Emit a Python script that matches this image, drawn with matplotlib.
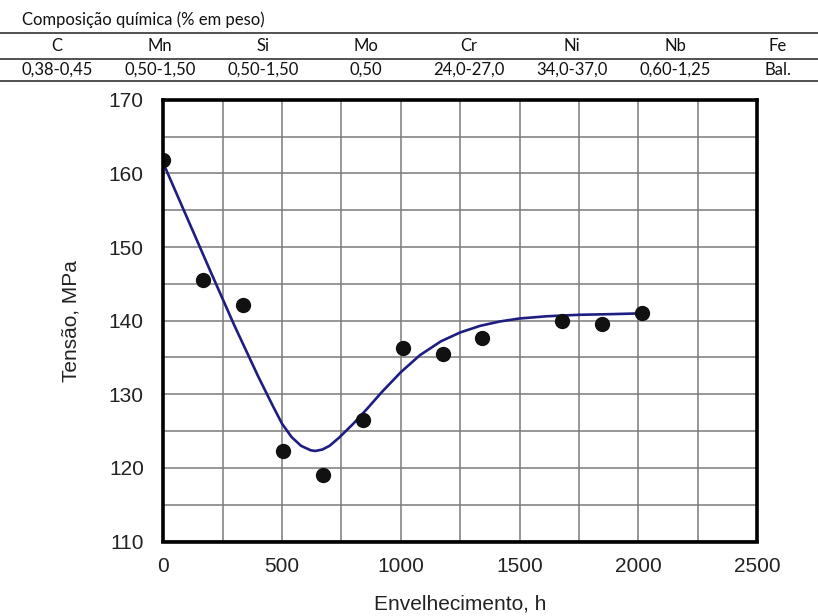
import matplotlib
matplotlib.use("Agg")
import matplotlib.pyplot as plt
from matplotlib.lines import Line2D

# composition table
elements = ["C", "Mn", "Si", "Mo", "Cr", "Ni", "Nb", "Fe"]
contents = ["0,38-0,45", "0,50-1,50", "0,50-1,50", "0,50",
            "24,0-27,0", "34,0-37,0", "0,60-1,25", "Bal."]

# measured stress vs ageing time
aging_h = [0, 168, 336, 504, 672, 840, 1008, 1176, 1344, 1680, 1848, 2016]
stress_mpa = [161.8, 145.5, 142.1, 122.3, 119.1, 126.5, 136.3, 135.5, 137.6,
              140.0, 139.5, 141.0]

# fitted trend curve
fit_h = [0, 100, 200, 300, 400, 460, 500, 540, 580, 620, 640, 670, 700,
         740, 800, 860, 920, 1000, 1080, 1169, 1250, 1334, 1418, 1500,
         1614, 1750, 1897, 2016]
fit_mpa = [161.4, 154.0, 146.6, 139.3, 132.4, 128.5, 126.0, 124.2, 123.0,
           122.4, 122.3, 122.5, 123.0, 124.1, 126.0, 128.1, 130.3, 133.0,
           135.3, 137.2, 138.4, 139.3, 139.9, 140.3, 140.6, 140.8, 140.9,
           141.0]

W, H = 818, 616
fig = plt.figure(figsize=(W / 100, H / 100), dpi=100)

tfont = "Lato"
fig.text(22 / W, 1 - 20 / H, "Composição química (% em peso)", family=tfont,
         fontsize=12, ha="left", va="center", color="#111111")
for y in (33, 59, 81):
    fig.add_artist(Line2D([0, 1], [1 - y / H, 1 - y / H], color="#333333",
                          lw=1.2, transform=fig.transFigure))
for i, (el, val) in enumerate(zip(elements, contents)):
    cx = (57 + 103 * i) / W
    fig.text(cx, 1 - 46 / H, el, family=tfont, fontsize=12,
             ha="center", va="center", color="#111111")
    fig.text(cx, 1 - 70 / H, val, family=tfont, fontsize=12,
             ha="center", va="center", color="#111111")

ax = fig.add_axes([163.3 / W, 1 - 541.5 / H, 593.7 / W, 441.6 / H])
ax.plot(fit_h, fit_mpa, color="#1e1e82", lw=1.9, zorder=3)
ax.plot(aging_h, stress_mpa, "o", color="#111111", ms=10, zorder=4)

ax.set_xlim(0, 2500)
ax.set_ylim(110, 170)
ax.set_xticks(range(0, 2501, 500))
ax.set_xticks(range(0, 2501, 250), minor=True)
ax.set_yticks(range(110, 171, 10))
ax.set_yticks(range(110, 171, 5), minor=True)
ax.grid(which="both", color="#7a7a7a", lw=1.1)
ax.set_axisbelow(True)
for s in ax.spines.values():
    s.set_linewidth(2.6)
    s.set_color("black")
    s.set_zorder(5)
ax.tick_params(which="both", length=0, labelsize=15, labelcolor="#222222",
               labelfontfamily="Liberation Sans")
ax.tick_params(axis="y", pad=14)
ax.tick_params(axis="x", pad=11)

ax.set_xlabel("Envelhecimento, h", fontsize=15, family="Liberation Sans",
              color="#222222", va="center")
ax.xaxis.set_label_coords(0.5, -0.1415)
ax.set_ylabel("Tensão, MPa", fontsize=15, family="Liberation Sans",
              color="#222222", va="center", ha="center")
ax.yaxis.set_label_coords(-0.155, 0.5)

fig.savefig("out.png", dpi=100)
